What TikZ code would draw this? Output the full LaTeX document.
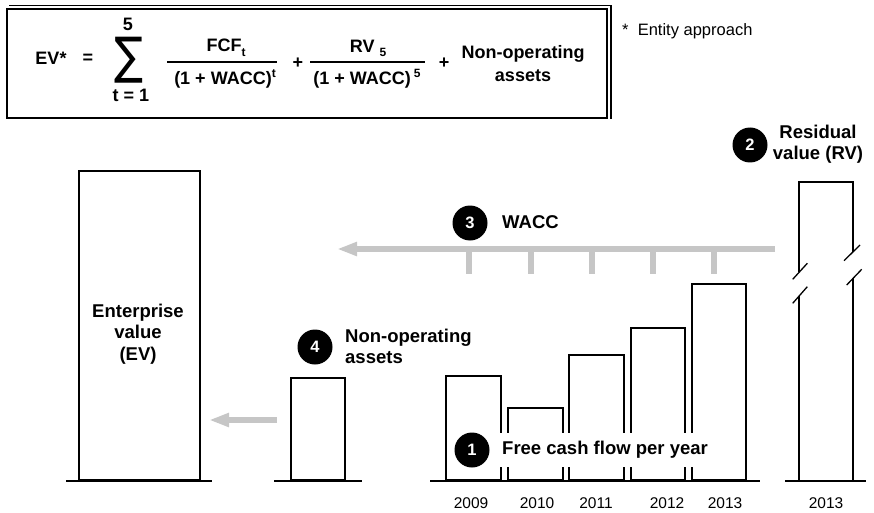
\documentclass[tikz,border=0pt]{standalone}
\usepackage{fontspec}
\usepackage{graphicx}
\setmainfont{Liberation Sans}
\newfontfamily\symfont{DejaVu Sans}
\usetikzlibrary{arrows.meta}
\definecolor{arrowgray}{RGB}{198,198,198}

\begin{document}
\begin{tikzpicture}[x=1pt,y=-1pt,
  lbl/.style={font=\fontsize{18.5}{21}\selectfont\bfseries, inner sep=0pt},
  fml/.style={font=\fontsize{18}{23}\selectfont\bfseries, inner sep=0pt},
  small/.style={font=\fontsize{16.5}{19}\selectfont, inner sep=0pt},
  yr/.style={font=\fontsize{15.5}{18}\selectfont, inner sep=0pt},
  bar/.style={draw=black, line width=2.4pt, fill=white, inner sep=0pt, anchor=south west},
  barline/.style={draw=black, line width=2.4pt},
  slash/.style={draw=black, line width=1.3pt},
  base/.style={draw=black, line width=2pt},
  badge/.style={circle, fill=black, text=white, minimum size=35pt, inner sep=0pt,
                font=\fontsize{16.5}{16.5}\selectfont\bfseries},
  grayarrow/.style={draw=arrowgray, line width=6.5pt, -{Triangle[length=20pt,width=13pt]}},
  tickmark/.style={draw=arrowgray, line width=6pt},
]
\useasboundingbox (0,0) rectangle (874,513);

% ---------- formula panel ----------
\draw[line width=2.2pt] (7,9) rectangle (607,118);
\draw[line width=1.6pt] (9,5.5) -- (611,5.5) -- (611,119);

\node[fml] (ev) at (51,58) {EV*};
\node[fml] (eq) at (88,59) {=};
\node[inner sep=0pt] (sigma) at (129,60) {\resizebox*{29pt}{46pt}{\symfont ∑}};
\node[fml] (upper) at (128,24) {5};
\node[fml] (lower) at (131,95) {t = 1};

\node[fml] (num1) at (226,48) {FCF\raisebox{-5pt}{\fontsize{12}{12}\selectfont t}};
\coordinate (bar1l) at (167,62);
\coordinate (bar1r) at (277,62);
\draw[line width=1.5pt] (bar1l) -- (bar1r);
\node[fml] (den1) at (225,79) {(1 + WACC)\raisebox{7pt}{\fontsize{12}{12}\selectfont t}};
\node[fml] (plus1) at (298,63) {+};

\node[fml] (num2) at (368,48) {RV \raisebox{-4pt}{\fontsize{12}{12}\selectfont 5}};
\coordinate (bar2l) at (310,62);
\coordinate (bar2r) at (425,62);
\draw[line width=1.5pt] (bar2l) -- (bar2r);
\node[fml] (den2) at (367,79) {(1 + WACC)\,\raisebox{7pt}{\fontsize{12}{12}\selectfont 5}};
\node[fml] (plus2) at (444,63) {+};
\node[fml, align=center] (nonop) at (523,64) {Non-operating\\assets};

\node[small, anchor=west] (note) at (622,31) {*\ \ Entity approach};

% ---------- enterprise value ----------
\node[bar, minimum width=121pt, minimum height=309pt] (evbar) at (77.7,481) {};
\draw[base] (66,481) -- (212,481);
\node[lbl, align=center, font=\fontsize{18.5}{21.5}\selectfont\bfseries] (evtext) at (138,334) {Enterprise\\value\\(EV)};

% ---------- non-operating assets ----------
\node[bar, minimum width=54pt, minimum height=102pt] (nobar) at (290,481) {};
\draw[base] (274,481) -- (362,481);
\node[badge] (b4) at (315,347) {4};
\node[lbl, align=left, anchor=west] (notext) at (345,346.5) {Non-operating\\assets};
\draw[grayarrow] (nobar.west |- 0,420) ++(-13,0) coordinate (naStart) -- (209,420) coordinate (naEnd);

% ---------- free cash flows ----------
\node[bar, minimum width=55pt, minimum height=104pt] (f09) at (445,481) {};
\node[bar, minimum width=55pt, minimum height=72pt]  (f10) at (507,481) {};
\node[bar, minimum width=55pt, minimum height=125pt] (f11) at (568,481) {};
\node[bar, minimum width=54pt, minimum height=152pt] (f12) at (630,481) {};
\node[bar, minimum width=54pt, minimum height=196pt] (f13) at (691,481) {};
\draw[base] (430,481) -- (760,481);

\node[lbl, fill=white, inner xsep=5pt, inner ysep=8pt, anchor=west] (fcftext) at (497,450) {Free cash flow per year};
\node[badge] (b1) at (472,450) {1};

\node[yr] (y09) at (471,503) {2009};
\node[yr] (y10) at (537,503) {2010};
\node[yr] (y11) at (596,503) {2011};
\node[yr] (y12) at (667,503) {2012};
\node[yr] (y13) at (725,503) {2013};

% ---------- residual value (broken bar) ----------
\draw[barline] (799,272.4) -- (799,182) -- (853,182) -- (853,252);
\draw[barline] (799,296) -- (799,481);
\draw[barline] (853,278.4) -- (853,481);
\draw[slash] (792.7,279.3) -- (807.3,263.3);
\draw[slash] (792.7,303.3) -- (807.3,286.7);
\draw[slash] (844,260.7) -- (860,245);
\draw[slash] (846.7,285) -- (861.7,269.3);
\draw[base] (785,481) -- (866,481);
\node[yr] (yrv) at (826,503) {2013};

\node[badge] (b2) at (750,145) {2};
\node[lbl, align=center] (rvtext) at (818,144) {Residual\\value (RV)};

% ---------- discounting with WACC ----------
\coordinate (waccStart) at (775,249);
\coordinate (waccEnd) at (337,249);
\foreach \x in {469,531,592,653,714}
  \draw[tickmark] (\x,249) -- (\x,274);
\draw[grayarrow] (waccStart) -- (waccEnd);
\node[badge] (b3) at (470,223) {3};
\node[lbl, anchor=west] (wacctext) at (502,222) {WACC};

\end{tikzpicture}
\end{document}
